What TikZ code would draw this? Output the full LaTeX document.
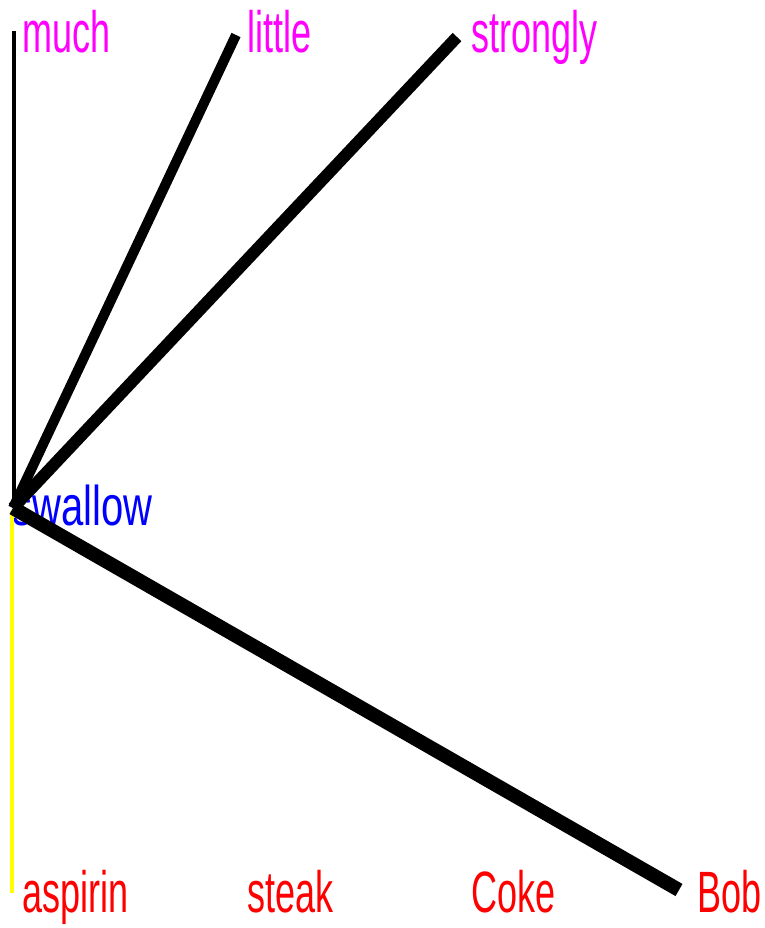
\documentclass[tikz,border=0pt]{standalone}
\usepackage{graphicx}
\usepackage{fontspec}
\setmainfont{Liberation Sans}
\definecolor{pinkword}{RGB}{255,0,255}
\definecolor{blueword}{RGB}{0,0,255}
\definecolor{redword}{RGB}{255,0,0}
\definecolor{yellowlink}{RGB}{255,255,0}
\tikzset{
  word/.style={
    anchor=base west,
    inner sep = 0pt,
    font=\fontsize{36}{36}\selectfont
  },
  modifier/.style={word, text=pinkword},
  object/.style={word, text=redword},
  verb/.style={word, text=blueword, font=\fontsize{40}{40}\selectfont},
  link/.style={
    draw=black,
    line cap=butt
  }
}
\newcommand{\tallword}[2][1.62]{\scalebox{1}[#1]{#2}}

\begin{document}
\begin{tikzpicture}[x=1pt,y=-1pt]
            \useasboundingbox (0,0) rectangle (764,928);
            \coordinate (root) at (13,508);
            \node[verb] (swallow) at (12,525) {\tallword[1.4]{swallow}};
            \foreach \w/\x in {much/22,little/247,strongly/471}{
                    \node[modifier] (\w) at (\x,53) {\tallword{\w}};
                }
            \foreach \w/\x in {aspirin/22,steak/247,Coke/471,Bob/697}{
                    \node[object] (\w) at (\x,912) {\tallword{\w}};
                }
            % free ends of the links
            \coordinate (much-end) at (14,31);
            \coordinate (little-end) at (236,35);
            \coordinate (strongly-end) at (457,37);
            \coordinate (Bob-end) at (679,890);
            \coordinate (aspirin-end) at (12,893);
            \draw[yellowlink, line width=4pt] (12,511) -- (aspirin-end);
            \draw[link, line width=4pt] (14,508) -- (much-end);
            \draw[link, line width=10pt] (root) -- (little-end);
            \draw[link, line width=12pt] (root) -- (strongly-end);
            \draw[link, line width=14pt] (root) -- (Bob-end);
        \end{tikzpicture}
\end{document}
